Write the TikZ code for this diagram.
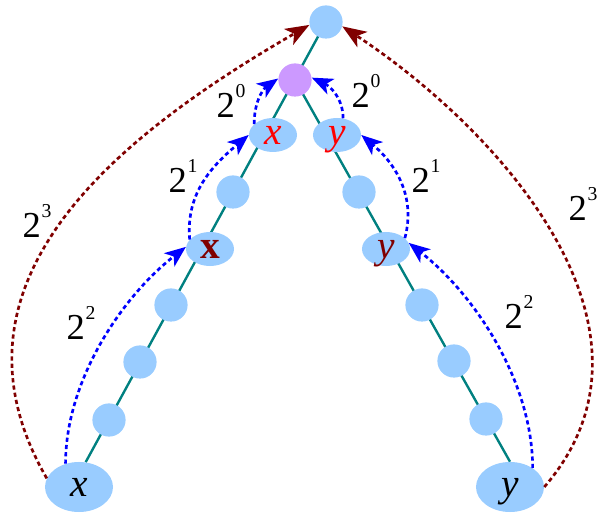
\documentclass[tikz,border=0pt]{standalone}
\usepackage{fontspec}
\setmainfont{Liberation Serif}
\usetikzlibrary{arrows.meta, shapes.geometric, backgrounds}
\definecolor{nodeblue}{RGB}{153,204,255}
\definecolor{nodepurple}{RGB}{204,153,255}
\definecolor{chainteal}{RGB}{0,128,128}
\definecolor{deepred}{RGB}{128,0,0}
\definecolor{jumpblue}{RGB}{0,0,255}
\newcommand{\pw}[1]{2\kern0.5pt\raisebox{0.57em}{\fontsize{14}{14}\selectfont #1}}

\begin{document}
\begin{tikzpicture}[x=0.025cm, y=0.025cm,
  dot/.style={circle,fill=nodeblue,minimum size=0.83cm,inner sep=0pt},
  lab/.style={ellipse,fill=nodeblue,minimum width=1.2cm,minimum height=0.85cm,
    inner sep=0pt,text depth=0pt,font=\fontsize{28}{30}\selectfont},
  leaf/.style={lab,minimum width=1.7cm,minimum height=1.25cm},
  chain/.style={draw=chainteal,line width=1.7pt},
  jump/.style={draw=jumpblue,line width=1.9pt,dash pattern=on 3pt off 2.2pt,
    -{Stealth[length=15pt,width=12pt,inset=4pt]}},
  far/.style={jump,draw=deepred,-{Stealth[length=17pt,width=13pt,inset=4.5pt]}},
  pow/.style={font=\fontsize{26}{30}\selectfont}]
  \useasboundingbox (0,0) rectangle (607,-517);
  % the two paths up to the root
  \node[dot] (root) at (326,-22) {};
  \node[dot,fill=nodepurple] (pu) at (295,-80) {};
  \node[lab,text=red] (xr) at (273,-135) {\textit{x}};
  \node[lab,text=red] (yr) at (337,-135) {\textit{y}};
  \node[dot] (lc1) at (233,-192) {};
  \node[lab,text=deepred] (xm) at (210,-249) {\textbf{x}};
  \node[dot] (lc2) at (171,-305) {};
  \node[dot] (lc3) at (140,-362) {};
  \node[dot] (lc4) at (109,-420) {};
  \node[leaf] (xb) at (79,-487) {\textit{x}};
  \node[dot] (rc1) at (359,-192) {};
  \node[lab,text=deepred] (ym) at (386,-249) {\textit{y}};
  \node[dot] (rc2) at (422,-305) {};
  \node[dot] (rc3) at (454,-361) {};
  \node[dot] (rc4) at (486,-419) {};
  \node[leaf] (yb) at (510,-487) {\textit{y}};
  \begin{pgfonlayer}{background}
    \draw[chain] (xb.75) -- (root.center);
    \draw[chain] (pu.center) -- (yb.north);
  \end{pgfonlayer}
  % jumps
  \draw[jump] (xr.150) to[out=90,in=215] (pu.175);
  \draw[jump] (yr.70) to[out=90,in=335] (pu.8);
  \draw[jump] (xm.155) to[out=95,in=220] (xr.west);
  \draw[jump] (ym.30) to[out=75,in=320] (yr.east);
  \draw[jump] (xb.120) to[out=90,in=218,looseness=0.85] (xm.175);
  \draw[jump] (yb.40) to[out=90,in=322,looseness=0.85] (ym.15);
  \draw[far] (xb.165) to[out=120,in=210,looseness=1.1] (root.190);
  \draw[far] (yb.east) .. controls (680,-330) and (500,-130) .. (root.345);
  % jump lengths
  \node[pow] (p0l) at (231,-101) {\pw{0}};
  \node[pow] (p0r) at (366,-91) {\pw{0}};
  \node[pow] (p1l) at (183,-176) {\pw{1}};
  \node[pow] (p1r) at (426,-176) {\pw{1}};
  \node[pow] (p2l) at (81,-323) {\pw{2}};
  \node[pow] (p2r) at (519,-312) {\pw{2}};
  \node[pow] (p3l) at (37,-221) {\pw{3}};
  \node[pow] (p3r) at (583,-204) {\pw{3}};
\end{tikzpicture}
\end{document}
